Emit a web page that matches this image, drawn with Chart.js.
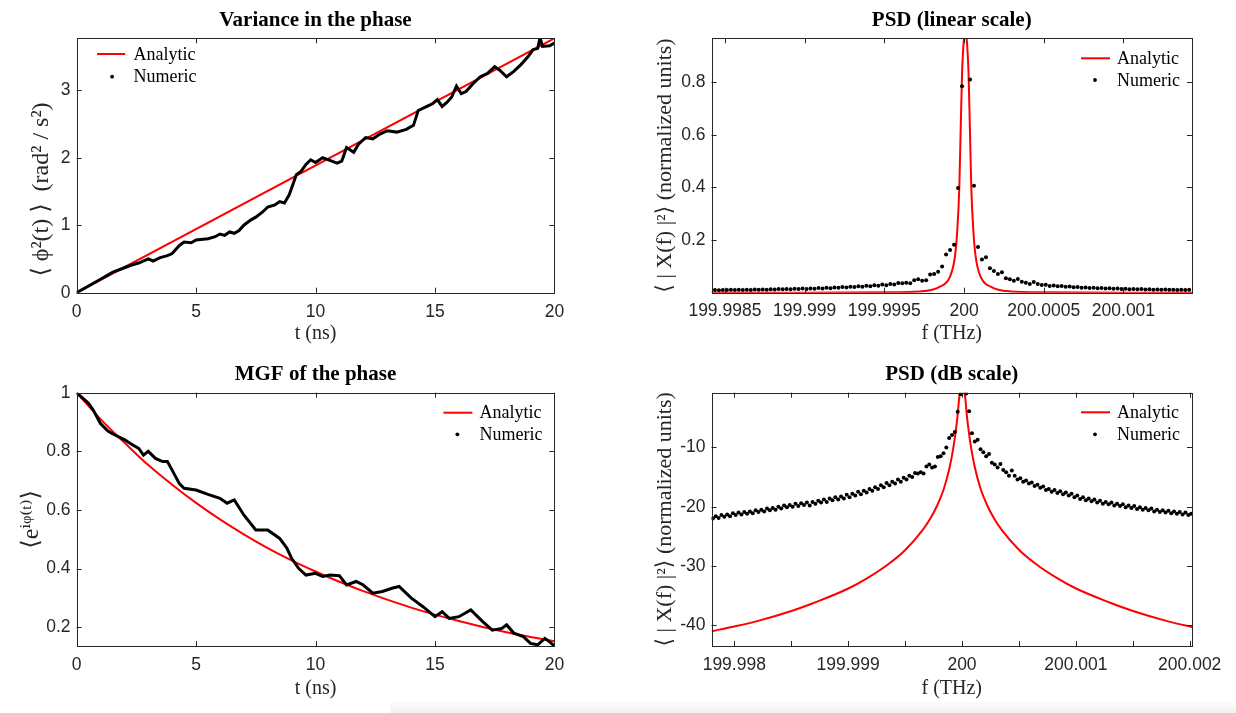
<!DOCTYPE html>
<html>
<head>
<meta charset="utf-8">
<script src="https://cdn.jsdelivr.net/npm/chart.js@4.4.1/dist/chart.umd.min.js"></script>
<style>
html,body{margin:0;padding:0;background:#fff;}
#wrap{position:relative;width:1236px;height:713px;overflow:hidden;background:#fff;}
#wrap canvas{position:absolute;}
#shade{position:absolute;left:390px;top:702px;width:846px;height:11px;background:linear-gradient(#fcfcfc,#f1f1f1);}
</style>
</head>
<body>
<div id="wrap">
  <canvas id="cVar" width="620" height="355" style="left:0;top:0"></canvas>
  <canvas id="cLin" width="616" height="355" style="left:620px;top:0"></canvas>
  <canvas id="cMgf" width="620" height="358" style="left:0;top:355px"></canvas>
  <canvas id="cDb" width="616" height="358" style="left:620px;top:355px"></canvas>
  <div id="shade"></div>
</div>
<script>
// ---------------- data ----------------
// Variance in the phase
const tVar = [0,0.5,1,1.5,2,2.3,2.6,3,3.2,3.5,3.8,4,4.3,4.5,4.8,5,5.5,5.8,6,6.2,6.4,6.6,6.8,7,7.3,7.5,7.8,8,8.3,8.5,8.7,8.9,9.05,9.2,9.4,9.6,9.8,10,10.3,10.6,10.9,11.1,11.3,11.6,11.8,12.1,12.4,12.7,13,13.4,13.8,14.1,14.3,14.6,14.9,15.1,15.3,15.5,15.7,15.9,16.1,16.3,16.6,16.9,17.2,17.5,17.7,18,18.3,18.6,18.9,19.1,19.3,19.4,19.5,19.8,20];
const varNum = [0,0.1,0.2,0.3,0.37,0.41,0.44,0.5,0.47,0.52,0.55,0.58,0.7,0.75,0.74,0.78,0.8,0.83,0.87,0.85,0.9,0.88,0.92,1.0,1.08,1.12,1.2,1.27,1.3,1.35,1.33,1.45,1.6,1.75,1.8,1.9,1.97,1.93,2.0,1.96,1.92,1.95,2.15,2.08,2.2,2.3,2.28,2.35,2.4,2.38,2.42,2.48,2.7,2.75,2.8,2.86,2.76,2.82,2.9,3.06,2.95,2.98,3.1,3.2,3.25,3.35,3.3,3.2,3.28,3.38,3.5,3.6,3.62,3.78,3.65,3.66,3.7];
const tVarAna = [0, 20];
const varAna = [0, 3.77];
const varYRange = [0, 3.77];

// MGF of the phase
const tMgf = [0,0.5,0.7,1,1.3,1.5,2,2.3,2.6,2.8,3,3.3,3.6,3.8,4,4.3,4.5,5,5.5,6,6.3,6.6,7,7.5,8,8.5,8.8,9,9.3,9.6,10,10.3,10.6,11,11.3,11.7,12,12.4,12.8,13.2,13.5,14,14.5,15,15.3,15.6,16,16.5,17,17.4,17.8,18,18.3,18.7,19,19.3,19.6,19.8,20];
const mgfNum = [1.0,0.964,0.94,0.895,0.87,0.86,0.84,0.824,0.81,0.787,0.8,0.776,0.765,0.765,0.736,0.69,0.674,0.668,0.653,0.64,0.623,0.634,0.583,0.532,0.532,0.503,0.47,0.435,0.4,0.378,0.384,0.373,0.378,0.376,0.344,0.356,0.344,0.316,0.322,0.333,0.339,0.3,0.27,0.236,0.253,0.23,0.236,0.259,0.219,0.19,0.196,0.208,0.18,0.168,0.145,0.14,0.162,0.15,0.136];
const tMgfAna = [0,1,2,3,4,5,6,7,8,9,10,11,12,13,14,15,16,17,18,19,20];
const mgfAna = [1.0,0.91,0.83,0.753,0.686,0.624,0.568,0.517,0.47,0.428,0.39,0.355,0.323,0.294,0.267,0.243,0.221,0.201,0.183,0.167,0.152];
const mgfYRange = [0.136, 1];

// PSD numeric: frequency bins (THz)
const fStepNum = 0.000025;
const fCenterNum = 200.0000125;
const kStartLin = -63;
const psdLinNum = [
 .0105,.0098,.0107,.0100,.0112,.0102,.0115,.0107,.0117,.0105,
 .0120,.0112,.0126,.0117,.0132,.0120,.0138,.0129,.0145,.0132,
 .0148,.0138,.0158,.0145,.0166,.0155,.0178,.0162,.0186,.0174,
 .0200,.0186,.0214,.0200,.0229,.0214,.0251,.0229,.0263,.0245,
 .0288,.0263,.0309,.0288,.0331,.0316,.0372,.0363,.0380,.0363,
 .0479,.0513,.0457,.0479,.0692,.0708,.0794,.100,.145,.162,
 .182,.398,.785,1.0,.81,.407,.174,.126,.135,.093,
 .083,.071,.078,.055,.051,.046,.052,.042,.038,.033,
 .041,.033,.029,.030,.026,.0275,.0245,.0257,.0224,.0234,
 .0209,.0219,.0191,.0200,.0178,.0191,.0170,.0182,.0162,.0174,
 .0155,.0166,.0145,.0155,.0135,.0145,.0129,.0138,.0123,.0132,
 .0117,.0126,.0112,.0120,.0110,.0117,.0105,.0112,.0102,.0110];
const kStartDb = -88;
const psdDbNum = [
 -22.0,-21.6,-21.9,-21.4,-21.7,-21.3,-21.6,-21.1,-21.4,-21.0,
 -21.3,-20.9,-21.2,-20.8,-21.1,-20.6,-20.9,-20.5,-20.8,-20.3,
 -20.6,-20.2,-20.5,-20.0,-20.3,-19.8,-20.1,-19.7,-20.0,-19.5,
 -19.9,-19.4,-19.7,-19.3,-19.8,-19.2,-19.5,-19.0,-19.3,-18.8,
 -19.2,-18.6,-18.9,-18.4,-18.8,-18.3,-18.6,-18.0,-18.4,-17.8,
 -18.1,-17.5,-17.9,-17.3,-17.6,-17.0,-17.3,-16.7,-17.0,-16.4,
 -16.7,-16.0,-16.4,-15.8,-16.1,-15.4,-15.8,-15.1,-15.4,-14.8,
 -15.0,-14.3,-14.4,-14.2,-14.4,-13.2,-12.9,-13.4,-13.2,-11.6,
 -11.5,-11.0,-10.0,-8.4,-7.9,-7.4,-4.0,-1.05,0.0,-0.92,
 -3.9,-7.6,-9.0,-8.7,-10.3,-10.8,-11.5,-11.1,-12.6,-12.9,
 -13.4,-12.8,-13.8,-14.2,-14.8,-13.9,-14.8,-15.4,-15.2,-15.8,
 -15.6,-16.1,-15.9,-16.5,-16.3,-16.8,-16.6,-17.2,-17.0,-17.5,
 -17.2,-17.7,-17.4,-17.9,-17.6,-18.1,-17.8,-18.4,-18.1,-18.7,
 -18.4,-18.9,-18.6,-19.1,-18.8,-19.3,-19.0,-19.5,-19.2,-19.6,
 -19.3,-19.8,-19.5,-19.9,-19.6,-20.1,-19.8,-20.2,-19.9,-20.4,
 -20.1,-20.5,-20.2,-20.6,-20.3,-20.8,-20.5,-20.9,-20.6,-21.0,
 -20.7,-21.1,-20.8,-21.2,-20.9,-21.3,-21.0,-21.4,-21.2];

// PSD analytic (offsets in MHz from the line centre)
const MHz = 1e-6;
const fCenterLinAna = 200.000008;
const offLinAnaMHz = [-1600,-1000,-500,-283,-159,-96,-65,-50,-37.6,-29,-20,-8.5,0,8.5,20,29,37.6,50,65,96,159,283,500,1000,1500];
const psdLinAna = [0.00016,0.00042,0.0018,0.005,0.023,0.061,0.137,0.24,0.40,0.62,0.84,0.967,1.0,0.967,0.84,0.62,0.40,0.24,0.137,0.061,0.023,0.005,0.0018,0.00042,0.00018];
const fCenterDbAna = 200.000002;
const offDbAnaMHz = [-2200,-2000,-1800,-1500,-1300,-1000,-830,-650,-500,-350,-280,-220,-160,-110,-80,-50,-37.6,-29,-20,-8.5,0,8.5,20,29,37.6,50,80,110,160,220,280,350,500,650,830,1000,1300,1500,1800,2000,2200];
const psdDbAna = [-41.0,-40.2,-39.3,-37.6,-36.2,-33.8,-32.0,-29.7,-27.3,-24.0,-22.0,-19.8,-16.9,-13.3,-10.3,-6.2,-4.0,-2.1,-0.76,-0.15,0,-0.15,-0.76,-2.1,-4.0,-6.2,-10.3,-13.3,-16.9,-19.8,-22.0,-24.0,-27.3,-29.7,-32.0,-33.8,-36.2,-37.6,-39.3,-40.2,-41.0];

// axis ranges and tick steps
const tRange = [0, 20];
const linXRange = [199.998416, 200.00143];
const linYRange = [0.0002, 0.967];
const dbXRange = [199.9978, 200.00202];
const dbYRange = [-43.5, -0.77];

// ---------------- helpers ----------------
const SERIF = "'Liberation Serif','DejaVu Serif',serif";
const SANS = "'Liberation Sans','DejaVu Sans',sans-serif";
const AX = '#262626';
const RED = '#ff0000';
const fmt = v => String(+v.toFixed(4));
const zip = (xs, ys) => xs.map((x, i) => ({x, y: ys[i]}));
const grid = (c, k0, ys) => ys.map((y, i) => ({x: c + (k0 + i) * fStepNum, y}));
const offs = (c, o, ys) => o.map((d, i) => ({x: c + d * MHz, y: ys[i]}));

const framePlugin = {
  id: 'frameTicks',
  afterDatasetsDraw(chart) {
    const {ctx, chartArea: a, scales: {x, y}} = chart;
    const L = 5;
    ctx.save();
    ctx.strokeStyle = AX;
    ctx.lineWidth = 1;
    ctx.beginPath();
    x.ticks.forEach(t => {
      const px = Math.round(x.getPixelForValue(t.value)) + 0.5;
      ctx.moveTo(px, a.bottom); ctx.lineTo(px, a.bottom - L);
      ctx.moveTo(px, a.top); ctx.lineTo(px, a.top + L);
    });
    y.ticks.forEach(t => {
      const py = Math.round(y.getPixelForValue(t.value)) + 0.5;
      ctx.moveTo(a.left, py); ctx.lineTo(a.left + L, py);
      ctx.moveTo(a.right, py); ctx.lineTo(a.right - L, py);
    });
    ctx.stroke();
    const l = Math.round(a.left) + 0.5, t = Math.round(a.top) + 0.5;
    ctx.strokeRect(l, t, Math.round(a.right) - Math.round(a.left), Math.round(a.bottom) - Math.round(a.top));
    ctx.restore();
  }
};

const boxLegend = {
  id: 'boxLegend',
  afterDraw(chart, args, o) {
    const {ctx, chartArea: a} = chart;
    const left = o.side === 'left';
    const base = left ? a.left : a.right;
    const p = left ? {l0: 20.5, l1: 48.5, dot: 35.5, tx: 57} : {l0: -111, l1: -82, dot: -97, tx: -75};
    const ana = chart.data.datasets.find(d => d.label === 'Analytic');
    const num = chart.data.datasets.find(d => d.label === 'Numeric');
    const yA = a.top + o.yA, yN = a.top + o.yN;
    ctx.save();
    ctx.strokeStyle = ana.borderColor; ctx.lineWidth = 2;
    ctx.beginPath(); ctx.moveTo(base + p.l0, yA); ctx.lineTo(base + p.l1, yA); ctx.stroke();
    ctx.fillStyle = '#000';
    ctx.beginPath(); ctx.arc(base + p.dot, yN, 1.9, 0, Math.PI * 2); ctx.fill();
    ctx.font = "18px " + SERIF;
    ctx.textBaseline = 'alphabetic';
    ctx.textAlign = 'left';
    ctx.fillText(ana.label, base + p.tx, yA + 5.5);
    ctx.fillText(num.label, base + p.tx, yN + 5.5);
    ctx.restore();
  }
};

function axis(opt) {
  return {
    type: 'linear',
    min: opt.range[0], max: opt.range[1],
    grid: {display: false, drawTicks: false, tickLength: 0},
    border: {display: false},
    ticks: {
      stepSize: opt.step, includeBounds: false, autoSkip: false, maxRotation: 0, minRotation: 0,
      padding: opt.pad, color: AX, font: {family: SANS, size: 17.5},
      callback: opt.cb || (v => fmt(v))
    },
    title: {display: true, text: opt.title, color: AX, font: {family: SERIF, size: opt.tsize || 20}, padding: opt.tpad},
    afterFit: s => { if (opt.w !== undefined) s.width = opt.w; if (opt.h !== undefined) s.height = opt.h; }
  };
}

function makeChart(id, cfg) {
  new Chart(document.getElementById(id), {
    type: 'scatter',
    data: {datasets: cfg.datasets},
    options: {
      responsive: false, animation: false, devicePixelRatio: 1,
      layout: {padding: {left: 0, top: 0, bottom: 0, right: cfg.padRight}},
      plugins: {
        legend: {display: false}, tooltip: {enabled: false},
        title: {display: true, text: cfg.title, color: '#000', fullSize: false,
                font: {family: SERIF, size: 21, weight: 'bold'}, padding: cfg.titlePad},
        boxLegend: cfg.legend
      },
      scales: {x: cfg.x, y: cfg.y}
    },
    plugins: [framePlugin, boxLegend]
  });
}

const lineDs = (label, data, color, width, mono) => ({
  label, data, showLine: true, borderColor: color, backgroundColor: color, borderWidth: width,
  pointRadius: 0, clip: 0, cubicInterpolationMode: mono ? 'monotone' : 'default', tension: 0
});
const dotDs = (label, data) => ({
  label, data, showLine: false, pointRadius: 2, pointBorderWidth: 0,
  backgroundColor: '#000', borderColor: '#000', pointHoverRadius: 0
});

// ---------------- Variance ----------------
makeChart('cVar', {
  title: 'Variance in the phase', titlePad: {top: 8.4, bottom: 4.7}, padRight: 65.6,
  legend: {side: 'left', yA: 15.7, yN: 38.4},
  datasets: [
    lineDs('Numeric', zip(tVar, varNum), '#000', 3, false),
    lineDs('Analytic', zip(tVarAna, varAna), RED, 2, false)
  ],
  x: axis({range: tRange, step: 5, pad: 8.5, title: 't (ns)', tpad: {top: 0, bottom: 9}, h: 62.3}),
  y: axis({range: varYRange, step: 1, pad: 6, title: '⟨ ϕ²(t) ⟩  (rad² / s²)\u2003\u2003', tsize: 24, tpad: {top: 27.6, bottom: 0}, w: 76.6})
});

// ---------------- PSD linear ----------------
makeChart('cLin', {
  title: 'PSD (linear scale)', titlePad: {top: 8.4, bottom: 4.7}, padRight: 44,
  legend: {side: 'right', yA: 20, yN: 41.7},
  datasets: [
    dotDs('Numeric', grid(fCenterNum, kStartLin, psdLinNum)),
    lineDs('Analytic', offs(fCenterLinAna, offLinAnaMHz, psdLinAna), RED, 2, true)
  ],
  x: axis({range: linXRange, step: 0.0005, pad: 8, title: 'f (THz)', tpad: {top: 0, bottom: 9}, h: 62.3}),
  y: axis({range: linYRange, step: 0.2, pad: 6, title: '⟨ | X(f) |²⟩ (normalized units)', tsize: 22, tpad: {top: 31.8, bottom: 0}, w: 91.5})
});

// ---------------- MGF ----------------
makeChart('cMgf', {
  title: 'MGF of the phase', titlePad: {top: 7.4, bottom: 5.1}, padRight: 65.6,
  legend: {side: 'right', yA: 20, yN: 41.6},
  datasets: [
    lineDs('Numeric', zip(tMgf, mgfNum), '#000', 3, false),
    lineDs('Analytic', zip(tMgfAna, mgfAna), RED, 2, true)
  ],
  x: axis({range: tRange, step: 5, pad: 8.5, title: 't (ns)', tpad: {top: 0, bottom: 12.7}, h: 67}),
  y: axis({range: mgfYRange, step: 0.2, pad: 6, title: '⟨eⁱᵠ⁽ᵗ⁾⟩', tsize: 24, tpad: {top: 17.6, bottom: 0}, w: 76.6})
});

// ---------------- PSD dB ----------------
makeChart('cDb', {
  title: 'PSD (dB scale)', titlePad: {top: 7.4, bottom: 5.1}, padRight: 44,
  legend: {side: 'right', yA: 19.6, yN: 41.6},
  datasets: [
    dotDs('Numeric', grid(fCenterNum, kStartDb, psdDbNum)),
    lineDs('Analytic', offs(fCenterDbAna, offDbAnaMHz, psdDbAna), RED, 2, true)
  ],
  x: axis({range: dbXRange, step: 0.0005, pad: 8.5, title: 'f (THz)', tpad: {top: 0, bottom: 12}, h: 67,
           cb: v => (Math.abs(v * 1000 - Math.round(v * 1000)) < 1e-4 ? fmt(v) : '')}),
  y: axis({range: dbYRange, step: 10, pad: 6, title: '⟨ | X(f) |²⟩ (normalized units)', tsize: 22, tpad: {top: 31.8, bottom: 0}, w: 91.5})
});
</script>
</body>
</html>
